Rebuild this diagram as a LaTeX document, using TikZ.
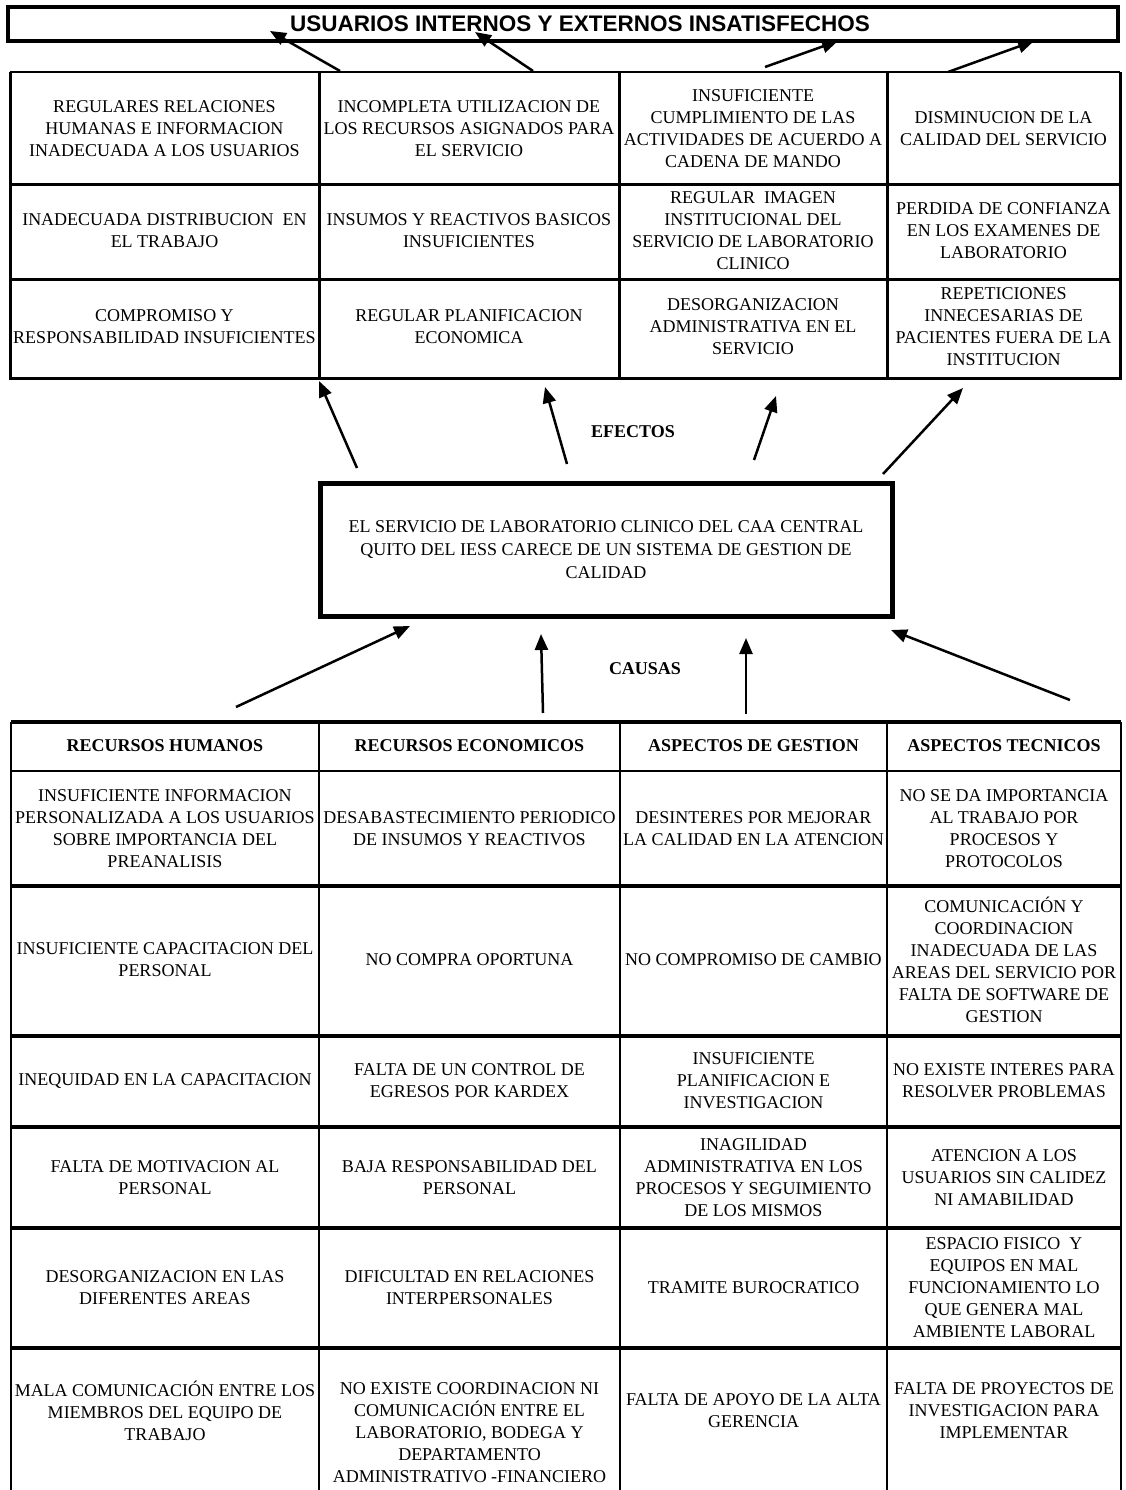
\documentclass[tikz,border=0pt]{standalone}
\usepackage{fontspec}
\setmainfont{Liberation Serif}
\newfontfamily\arialfont{Liberation Sans}
\usetikzlibrary{arrows.meta}

\begin{document}
\begin{tikzpicture}
  [x=1pt, y=-1pt,
  celda/.style={align=center, inner sep=0pt, font=\fontsize{18}{22}\selectfont},
  cabeza/.style={align=center, inner sep=0pt, font=\fontsize{18}{22}\selectfont\bfseries},
  raya/.style={line width=3pt},
  flecha/.style={line width=2.5pt, -{Triangle[length=16pt,width=13pt]}}]
  \useasboundingbox [fill=white] (0,0) rectangle (1125,1490);
  %Usuarios
  \draw [line width=4.5pt] (8,7) rectangle (1118,41);
  \node [inner sep=0pt, font=\fontsize{22.5}{26}\selectfont\arialfont\bfseries] (usuarios) at (580,24) {USUARIOS INTERNOS Y EXTERNOS INSATISFECHOS};
  %Tabla de efectos
  \draw [raya] (10,72) -- (10,378) -- (1120,378) -- (1120,72);
  \draw [line width=1.5pt] (10,72) -- (1120,72);
  \draw [raya] (10,185) -- (1120,185) (10,279) -- (1120,279);
  \draw [raya] (319,72) -- (319,378) (619,72) -- (619,378) (887,72) -- (887,378);
  \node [celda] (e11) at (164.5,129) {REGULARES RELACIONES\\HUMANAS E INFORMACION\\INADECUADA A LOS USUARIOS};
  \node [celda] (e12) at (469,129) {INCOMPLETA UTILIZACION DE\\LOS RECURSOS ASIGNADOS PARA\\EL SERVICIO};
  \node [celda] (e13) at (753,129) {INSUFICIENTE\\CUMPLIMIENTO DE LAS\\ACTIVIDADES DE ACUERDO A\\CADENA DE MANDO};
  \node [celda] (e14) at (1003.5,129) {DISMINUCION DE LA\\CALIDAD DEL SERVICIO};
  \node [celda] (e21) at (164.5,231) {INADECUADA DISTRIBUCION\ \ EN\\EL TRABAJO};
  \node [celda] (e22) at (469,231) {INSUMOS Y REACTIVOS BASICOS\\INSUFICIENTES};
  \node [celda] (e23) at (753,231) {REGULAR\ \ IMAGEN\\INSTITUCIONAL DEL\\SERVICIO DE LABORATORIO\\CLINICO};
  \node [celda] (e24) at (1003.5,231) {PERDIDA DE CONFIANZA\\EN LOS EXAMENES DE\\LABORATORIO};
  \node [celda] (e31) at (164.5,327) {COMPROMISO Y\\RESPONSABILIDAD INSUFICIENTES};
  \node [celda] (e32) at (469,327) {REGULAR PLANIFICACION\\ECONOMICA};
  \node [celda] (e33) at (753,327) {DESORGANIZACION\\ADMINISTRATIVA EN EL\\SERVICIO};
  \node [celda] (e34) at (1003.5,327) {REPETICIONES\\INNECESARIAS DE\\PACIENTES FUERA DE LA\\INSTITUCION};
  %Problema central
  \node [draw, line width=5pt, minimum width=572pt, minimum height=133pt, celda, font=\fontsize{18}{23}\selectfont] (problema) at (606,550) {EL SERVICIO DE LABORATORIO CLINICO DEL CAA CENTRAL\\QUITO DEL IESS CARECE DE UN SISTEMA DE GESTION DE\\CALIDAD};
  \node [cabeza] (efectos) at (633,432) {EFECTOS};
  \node [cabeza] (causas) at (645,669) {CAUSAS};
  %Flechas
  \coordinate (t1) at (340,71); \coordinate (u1) at (270,31);
  \coordinate (t2) at (533,71); \coordinate (u2) at (475,32);
  \coordinate (t3) at (765,67); \coordinate (u3) at (838,41);
  \coordinate (t4) at (948,72); \coordinate (u4) at (1034,41);
  \coordinate (f1) at (357,468); \coordinate (g1) at (319,381);
  \coordinate (f2) at (567,464); \coordinate (g2) at (545,387);
  \coordinate (f3) at (754,460); \coordinate (g3) at (776,396);
  \coordinate (f4) at (883,474); \coordinate (g4) at (963,388);
  \coordinate (c1) at (236,707); \coordinate (d1) at (410,626);
  \coordinate (c2) at (543,713); \coordinate (d2) at (541,634);
  \coordinate (c3) at (746,714); \coordinate (d3) at (746,638);
  \coordinate (c4) at (1070,700); \coordinate (d4) at (891,630);
  \draw [flecha] (t1) -- (u1);
  \draw [flecha] (t2) -- (u2);
  \draw [flecha] (t3) -- (u3);
  \draw [flecha] (t4) -- (u4);
  \draw [flecha] (f1) -- (g1);
  \draw [flecha] (f2) -- (g2);
  \draw [flecha] (f3) -- (g3);
  \draw [flecha] (f4) -- (g4);
  \draw [flecha] (c1) -- (d1);
  \draw [flecha] (c2) -- (d2);
  \draw [flecha] (c3) -- (d3);
  \draw [flecha] (c4) -- (d4);
  %Tabla de causas
  \draw [line width=4pt] (11,722) -- (1121,722);
  \draw [line width=2pt] (11,771) -- (1121,771);
  \draw [line width=4pt] (11,886) -- (1121,886) (11,1036) -- (1121,1036) (11,1127) -- (1121,1127) (11,1228) -- (1121,1228) (11,1348) -- (1121,1348);
  \draw [line width=2.5pt] (11,722) -- (11,1490) (319,722) -- (319,1490) (620,722) -- (620,1490) (887,722) -- (887,1490) (1121,722) -- (1121,1490);
  \node [cabeza] (h1) at (165,746) {RECURSOS HUMANOS};
  \node [cabeza] (h2) at (469.5,746) {RECURSOS ECONOMICOS};
  \node [cabeza] (h3) at (753.5,746) {ASPECTOS DE GESTION};
  \node [cabeza] (h4) at (1004,746) {ASPECTOS TECNICOS};
  \node [celda] (c11) at (165,829) {INSUFICIENTE INFORMACION\\PERSONALIZADA A LOS USUARIOS\\SOBRE IMPORTANCIA DEL\\PREANALISIS};
  \node [celda] (c12) at (469.5,829) {DESABASTECIMIENTO PERIODICO\\DE INSUMOS Y REACTIVOS};
  \node [celda] (c13) at (753.5,829) {DESINTERES POR MEJORAR\\LA CALIDAD EN LA ATENCION};
  \node [celda] (c14) at (1004,829) {NO SE DA IMPORTANCIA\\AL TRABAJO POR\\PROCESOS Y\\PROTOCOLOS};
  \node [celda] (c21) at (165,960) {INSUFICIENTE CAPACITACION DEL\\PERSONAL};
  \node [celda] (c22) at (469.5,960) {NO COMPRA OPORTUNA};
  \node [celda] (c23) at (753.5,960) {NO COMPROMISO DE CAMBIO};
  \node [celda] (c24) at (1004,960) {COMUNICACIÓN Y\\COORDINACION\\INADECUADA DE LAS\\AREAS DEL SERVICIO POR\\FALTA DE SOFTWARE DE\\GESTION};
  \node [celda] (c31) at (165,1081) {INEQUIDAD EN LA CAPACITACION};
  \node [celda] (c32) at (469.5,1081) {FALTA DE UN CONTROL DE\\EGRESOS POR KARDEX};
  \node [celda] (c33) at (753.5,1081) {INSUFICIENTE\\PLANIFICACION E\\INVESTIGACION};
  \node [celda] (c34) at (1004,1081) {NO EXISTE INTERES PARA\\RESOLVER PROBLEMAS};
  \node [celda] (c41) at (165,1178) {FALTA DE MOTIVACION AL\\PERSONAL};
  \node [celda] (c42) at (469.5,1178) {BAJA RESPONSABILIDAD DEL\\PERSONAL};
  \node [celda] (c43) at (753.5,1178) {INAGILIDAD\\ADMINISTRATIVA EN LOS\\PROCESOS Y SEGUIMIENTO\\DE LOS MISMOS};
  \node [celda] (c44) at (1004,1178) {ATENCION A LOS\\USUARIOS SIN CALIDEZ\\NI AMABILIDAD};
  \node [celda] (c51) at (165,1288) {DESORGANIZACION EN LAS\\DIFERENTES AREAS};
  \node [celda] (c52) at (469.5,1288) {DIFICULTAD EN RELACIONES\\INTERPERSONALES};
  \node [celda] (c53) at (753.5,1288) {TRAMITE BUROCRATICO};
  \node [celda] (c54) at (1004,1288) {ESPACIO FISICO\ \ Y\\EQUIPOS EN MAL\\FUNCIONAMIENTO LO\\QUE GENERA MAL\\AMBIENTE LABORAL};
  \node [celda] (c61) at (165,1411) {MALA COMUNICACIÓN ENTRE LOS\\MIEMBROS DEL EQUIPO DE\\TRABAJO};
  \node [celda] (c62) at (469.5,1433) {NO EXISTE COORDINACION NI\\COMUNICACIÓN ENTRE EL\\LABORATORIO, BODEGA Y\\DEPARTAMENTO\\ADMINISTRATIVO -FINANCIERO};
  \node [celda] (c63) at (753.5,1411) {FALTA DE APOYO DE LA ALTA\\GERENCIA};
  \node [celda] (c64) at (1004,1411) {FALTA DE PROYECTOS DE\\INVESTIGACION PARA\\IMPLEMENTAR};
\end{tikzpicture}
\end{document}
